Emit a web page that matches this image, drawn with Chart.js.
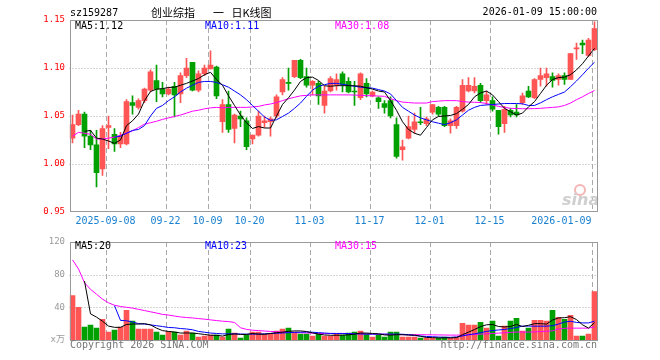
<!DOCTYPE html>
<html>
<head>
<meta charset="utf-8">
<script src="https://cdn.jsdelivr.net/npm/chart.js@4.4.1/dist/chart.umd.min.js"></script>
<style>
  html, body { margin: 0; padding: 0; background: #fff; }
  #wrap { position: relative; width: 660px; height: 360px; }
  canvas { position: absolute; left: 0; }
  #priceCanvas { top: 0; }
  #volCanvas { top: 232px; }
</style>
</head>
<body>
<div id="wrap">
  <canvas id="priceCanvas" width="660" height="232"></canvas>
  <canvas id="volCanvas" width="660" height="128"></canvas>
</div>
<script>
// Fechas de negociacion (categorias)
const fechas = [
  '2025-08-29',
  '2025-09-01','2025-09-02','2025-09-03','2025-09-04','2025-09-05',
  '2025-09-08','2025-09-09','2025-09-10','2025-09-11','2025-09-12',
  '2025-09-15','2025-09-16','2025-09-17','2025-09-18','2025-09-19',
  '2025-09-22','2025-09-23','2025-09-24','2025-09-25','2025-09-26',
  '2025-09-29','2025-09-30',
  '2025-10-09','2025-10-10',
  '2025-10-13','2025-10-14','2025-10-15','2025-10-16','2025-10-17',
  '2025-10-20','2025-10-21','2025-10-22','2025-10-23','2025-10-24',
  '2025-10-27','2025-10-28','2025-10-29','2025-10-30','2025-10-31',
  '2025-11-03','2025-11-04','2025-11-05','2025-11-06','2025-11-07',
  '2025-11-10','2025-11-11','2025-11-12','2025-11-13','2025-11-14',
  '2025-11-17','2025-11-18','2025-11-19','2025-11-20','2025-11-21',
  '2025-11-24','2025-11-25','2025-11-26','2025-11-27','2025-11-28',
  '2025-12-01','2025-12-02','2025-12-03','2025-12-04','2025-12-05',
  '2025-12-08','2025-12-09','2025-12-10','2025-12-11','2025-12-12',
  '2025-12-15','2025-12-16','2025-12-17','2025-12-18','2025-12-19',
  '2025-12-22','2025-12-23','2025-12-24','2025-12-25','2025-12-26',
  '2025-12-29','2025-12-30','2025-12-31',
  '2026-01-05','2026-01-06','2026-01-07','2026-01-08','2026-01-09'
];

// Fechas con linea vertical y su texto
const fechasMarca = ['2025-09-08','2025-09-22','2025-10-09','2025-10-20','2025-11-03','2025-11-17','2025-12-01','2025-12-15','2026-01-09'];
const textosMarca = ['2025-09-08','09-22','10-09','10-20','11-03','11-17','12-01','12-15','2026-01-09'];

// Velas: apertura, cierre, maximo, minimo
const aperturas = [
  1.027,1.041,1.052,1.029,1.020,0.995,1.038,1.031,1.021,1.021,
  1.064,1.059,1.066,1.077,1.087,1.078,1.073,1.081,1.073,1.092,
  1.106,1.077,1.094,1.099,1.101,1.044,1.062,1.037,1.050,1.045,
  1.026,1.030,1.043,1.044,1.050,1.075,1.085,1.091,1.108,1.091,
  1.082,1.084,1.061,1.076,1.082,1.094,1.086,1.076,1.069,1.084,
  1.071,1.069,1.063,1.066,1.041,1.015,1.027,1.036,1.044,1.042,
  1.054,1.059,1.059,1.040,1.040,1.055,1.076,1.076,1.082,1.066,
  1.066,1.056,1.042,1.056,1.054,1.064,1.076,1.069,1.088,1.090,
  1.091,1.088,1.092,1.088,1.120,1.126,1.113,1.119
];
const cierres = [
  1.041,1.052,1.029,1.020,0.991,1.037,1.040,1.021,1.029,1.065,
  1.061,1.066,1.078,1.096,1.078,1.073,1.078,1.072,1.092,1.100,
  1.077,1.094,1.100,1.103,1.071,1.062,1.036,1.051,1.047,1.018,
  1.030,1.050,1.045,1.047,1.070,1.088,1.084,1.108,1.090,1.082,
  1.086,1.071,1.076,1.089,1.088,1.083,1.075,1.075,1.094,1.073,
  1.075,1.065,1.059,1.050,1.008,1.018,1.039,1.044,1.043,1.047,
  1.062,1.052,1.040,1.045,1.059,1.082,1.082,1.081,1.066,1.072,
  1.057,1.039,1.057,1.051,1.051,1.071,1.070,1.088,1.092,1.094,
  1.087,1.092,1.088,1.115,1.121,1.124,1.129,1.141
];
const maximos = [
  1.051,1.056,1.054,1.035,1.035,1.040,1.050,1.037,1.033,1.067,
  1.071,1.068,1.079,1.098,1.103,1.085,1.080,1.085,1.095,1.110,
  1.106,1.097,1.103,1.118,1.102,1.067,1.076,1.052,1.055,1.048,
  1.030,1.055,1.050,1.049,1.072,1.090,1.100,1.108,1.109,1.100,
  1.087,1.086,1.081,1.091,1.094,1.096,1.090,1.086,1.095,1.089,
  1.076,1.070,1.066,1.070,1.048,1.025,1.050,1.053,1.059,1.049,
  1.062,1.060,1.060,1.047,1.060,1.088,1.090,1.090,1.084,1.076,
  1.070,1.056,1.060,1.058,1.062,1.074,1.081,1.089,1.100,1.100,
  1.095,1.094,1.095,1.115,1.126,1.129,1.131,1.148
];
const minimos = [
  1.022,1.040,1.017,1.015,0.976,0.988,1.016,1.013,1.017,1.020,
  1.052,1.057,1.064,1.075,1.065,1.070,1.072,1.049,1.064,1.090,
  1.076,1.075,1.092,1.099,1.068,1.033,1.033,1.022,1.039,1.015,
  1.021,1.029,1.038,1.029,1.048,1.072,1.077,1.090,1.089,1.080,
  1.072,1.062,1.053,1.075,1.077,1.075,1.074,1.061,1.067,1.070,
  1.070,1.058,1.053,1.048,1.006,1.004,1.026,1.032,1.041,1.040,
  1.052,1.050,1.039,1.032,1.037,1.054,1.075,1.074,1.064,1.062,
  1.055,1.031,1.033,1.049,1.049,1.062,1.069,1.068,1.081,1.081,
  1.080,1.082,1.083,1.088,1.109,1.115,1.112,1.118
];

// Medias moviles del precio
const ma5Precio = [
  null,null,1.034,1.035,1.027,1.026,1.024,1.0215,1.025,1.040,
  1.045,1.052,1.066,1.0755,1.078,1.0785,1.0797,1.080,1.082,1.084,
  1.0865,1.089,1.093,1.0955,1.088,1.082,1.071,1.061,1.051,1.043,
  1.037,1.039,1.0375,1.0375,1.050,1.062,1.069,1.077,1.086,1.090,
  1.0905,1.087,1.0815,1.081,1.0816,1.0816,1.0816,1.0815,1.081,1.0795,
  1.078,1.076,1.075,1.066,1.056,1.044,1.036,1.032,1.030,1.038,
  1.046,1.0495,1.050,1.0506,1.0525,1.057,1.062,1.070,1.074,1.076,
  1.072,1.065,1.058,1.0545,1.051,1.053,1.0595,1.065,1.0735,1.082,
  1.088,1.090,1.0905,1.093,1.098,1.1045,1.1125,1.1205
];
const ma10Precio = [
  null,null,null,null,null,null,null,1.028,1.029,1.032,
  1.035,1.036,1.040,1.050,1.058,1.061,1.066,1.070,1.075,1.079,
  1.082,1.085,1.086,1.086,1.085,1.0826,1.080,1.076,1.072,1.067,
  1.061,1.055,1.049,1.0455,1.046,1.0495,1.053,1.058,1.0635,1.0705,
  1.077,1.081,1.0826,1.084,1.084,1.083,1.082,1.081,1.080,1.0795,
  1.079,1.0775,1.076,1.073,1.066,1.059,1.055,1.051,1.048,1.046,
  1.044,1.0425,1.041,1.043,1.046,1.051,1.056,1.059,1.061,1.0615,
  1.062,1.0625,1.063,1.063,1.063,1.0627,1.061,1.061,1.0637,1.067,
  1.070,1.0725,1.075,1.0805,1.0865,1.093,1.0998,1.106
];
const ma30Precio = [
  1.029,1.033,1.032,1.031,1.026,1.026,1.027,1.028,1.030,1.032,
  1.0345,1.038,1.0415,1.043,1.0445,1.0465,1.048,1.0495,1.051,1.053,
  1.055,1.056,1.0575,1.0585,1.059,1.0585,1.059,1.059,1.059,1.059,
  1.0595,1.060,1.0615,1.0625,1.064,1.066,1.068,1.0695,1.071,1.0715,
  1.072,1.072,1.072,1.072,1.072,1.072,1.072,1.0718,1.0715,1.0712,
  1.071,1.0708,1.0705,1.068,1.066,1.0645,1.064,1.0635,1.0635,1.0635,
  1.065,1.0655,1.066,1.066,1.066,1.065,1.0645,1.0643,1.064,1.063,
  1.0615,1.060,1.059,1.058,1.0578,1.0576,1.0576,1.0577,1.058,1.0585,
  1.059,1.0595,1.061,1.0635,1.067,1.070,1.0735,1.0765
];

// Volumen (x万) y sus medias
const volumen = [
  54.4,39.9,15.7,18.1,14.5,25.4,9.7,12.1,15.7,36.2,
  23.0,13.3,13.3,13.3,9.7,6.0,10.3,9.7,6.0,10.9,
  8.5,3.6,4.8,6.0,6.0,3.6,13.3,8.5,2.4,6.0,
  9.7,9.7,7.2,7.2,10.9,13.3,14.5,9.7,7.2,7.2,
  4.8,7.2,4.8,4.8,7.2,6.0,8.5,9.7,10.9,7.2,
  3.6,6.0,3.6,9.7,9.7,3.6,3.6,3.6,2.4,2.4,
  2.4,2.4,3.6,2.4,3.6,20.5,18.1,18.1,21.7,14.5,
  23.0,4.8,16.9,23.0,26.6,10.9,14.5,24.2,24.2,23.0,
  36.2,27.8,25.4,30.2,4.8,4.8,7.2,59.2
];
const ma5Vol = [
  null,null,72,32,28,23,17,15.5,15.5,19,
  19.5,19.5,20,18.5,14.5,11.5,10.5,9.8,8.5,8.6,
  8.5,7.7,6.8,5.8,5.8,4.8,6.7,7.5,6.8,6.8,
  8,7.1,7,8,8.9,9.6,10.6,11.1,11.1,10.4,
  8.7,7.2,6.2,5.8,5.8,6,6.3,7.2,8.5,8.5,
  8,7.5,6.2,6,6.5,6.5,6,6,4.6,3.1,
  2.9,2.6,2.6,2.6,2.9,6.5,9.6,12.8,16.4,18.6,
  19,16.5,16,16.5,19,16.5,18,20,20,19.4,
  24.4,27,27.3,28.5,25,18.6,14.5,21.2
];
const ma10Vol = [
  null,null,null,null,null,null,null,42,24,23.5,
  22,20,19.5,18.5,17.5,16.5,15.3,15,14,13.5,
  12.5,10.5,9.5,8.5,8,7.5,7.5,7.5,7.3,7.2,
  7.2,7.3,7.5,8,8.3,8.6,9,9.3,9.5,9.7,
  9.5,9,8.5,8,8,8,7.8,7.6,7.4,7.3,
  7.2,7.2,7.2,7.2,7.2,7,6.5,5.5,4.8,4.3,
  4,3.6,3.3,3.3,3.7,5,6.5,7.5,9,10.5,
  11.5,12.3,12.9,14,15.3,17,17,16.9,16.9,16.9,
  17.5,19.5,22,22.9,21.5,20.9,20.9,23
];
const ma30Vol = [
  98,87,70,62,56,50,45.5,42.5,41,40,
  39,37.5,36,34.5,33,31.3,30.5,29.3,28.2,27.5,
  27,26.2,25.5,24.6,23.8,23,22.5,21.5,15,13,
  12,11.5,11,10.5,10,9.7,9.4,9,8.9,8.6,
  8.3,8,8,8,8,8,7.9,7.8,7.6,7.4,
  7.3,7.1,7,6.8,6.6,6.5,6.5,6.5,6.5,6.4,
  6.3,6.2,6.1,6,6,6,6.3,6.7,7.2,7.6,
  8,8.4,8.8,9.3,9.7,9.7,9.7,9.9,10.3,10.7,
  11.2,13.5,14.3,14.5,14.5,14.5,14.5,16
];

// Textos de las etiquetas
const codigo = 'sz159287';
const tituloPartes = ['创业综指', '一', '日K线图'];
const fechaHora = '2026-01-09 15:00:00';
const etiquetasPrecio = ['MA5:1.12', 'MA10:1.11', 'MA30:1.08'];
const etiquetasVol = ['MA5:20', 'MA10:23', 'MA30:15'];

// Colores
const ROJO = '#ff5555';
const VERDE = '#00a000';
const COLORES_MA = ['#000000', '#0000ff', '#ff00ff'];
const GRIS_MARCO = '#999999';
const GRIS_REJILLA = '#aaaaaa';
const MONO = '"DejaVu Sans Mono", "Noto Sans CJK SC", monospace';

const coloresVelas = cierres.map((c, i) => c >= aperturas[i] ? ROJO : VERDE);

function lineaMA(datos, color) {
    return {
        type: 'line', data: datos, borderColor: color, borderWidth: 1,
        pointRadius: 0, tension: 0, fill: false, order: 0
    };
}

// Lineas verticales punteadas en las fechas marcadas
function dibujarVerticales(chart) {
    const { ctx, chartArea: a, scales: { x } } = chart;
    ctx.save();
    ctx.strokeStyle = GRIS_REJILLA;
    ctx.lineWidth = 1;
    ctx.setLineDash([5, 3]);
    fechasMarca.forEach(f => {
        const px = x.getPixelForValue(fechas.indexOf(f)) - 2;
        ctx.beginPath();
        ctx.moveTo(px, Math.round(a.top));
        ctx.lineTo(px, Math.round(a.bottom));
        ctx.stroke();
    });
    ctx.restore();
}

function dibujarHorizontales(chart, valores) {
    const { ctx, chartArea: a, scales: { y } } = chart;
    ctx.save();
    ctx.strokeStyle = GRIS_REJILLA;
    ctx.lineWidth = 1;
    ctx.setLineDash([1, 2]);
    valores.forEach(v => {
        const py = Math.round(y.getPixelForValue(v)) + 0.5;
        ctx.beginPath();
        ctx.moveTo(a.left, py);
        ctx.lineTo(a.right, py);
        ctx.stroke();
    });
    ctx.restore();
}

function dibujarMarco(chart, abajo) {
    const { ctx, chartArea: a } = chart;
    const l = Math.round(a.left) + 0.5, r = Math.floor(a.right) + 0.5;
    const t = Math.round(a.top) + 0.5, b = abajo;
    ctx.save();
    ctx.strokeStyle = GRIS_MARCO;
    ctx.lineWidth = 1;
    ctx.strokeRect(l, t, r - l, b - t);
    ctx.restore();
}

function dibujarEtiquetasMA(ctx, textos, y) {
    const xs = [75, 205, 335];
    ctx.font = '10px ' + MONO;
    ctx.textBaseline = 'middle';
    ctx.textAlign = 'left';
    textos.forEach((t, i) => {
        ctx.fillStyle = COLORES_MA[i];
        ctx.fillText(t, xs[i], y);
    });
}

const pluginPrecio = {
    id: 'pluginPrecio',
    beforeDatasetsDraw(chart) {
        const { ctx } = chart;
        dibujarHorizontales(chart, [1.10, 1.05, 1.00]);
        dibujarVerticales(chart);
        // marca de agua sina
        ctx.save();
        ctx.strokeStyle = 'rgba(240,150,150,0.7)';
        ctx.lineWidth = 2;
        ctx.beginPath();
        ctx.arc(580, 190, 5, 0, Math.PI * 2);
        ctx.stroke();
        ctx.fillStyle = '#cfcfcf';
        ctx.font = 'italic bold 16px "DejaVu Sans"';
        ctx.textAlign = 'left';
        ctx.textBaseline = 'alphabetic';
        ctx.fillText('sina', 562, 205);
        ctx.restore();
    },
    afterDraw(chart) {
        const { ctx, scales: { x }, chartArea: a } = chart;
        dibujarMarco(chart, 211.5);
        ctx.save();
        // cabecera
        ctx.fillStyle = '#000';
        ctx.font = '10px ' + MONO;
        ctx.textBaseline = 'middle';
        ctx.textAlign = 'left';
        ctx.fillText(codigo, 70, 13);
        ctx.textAlign = 'right';
        ctx.fillText(fechaHora, 597, 12.5);
        ctx.font = '11px "Noto Sans CJK SC"';
        ctx.textAlign = 'left';
        const xsTitulo = [151, 213, 231.5];
        tituloPartes.forEach((t, i) => ctx.fillText(t, xsTitulo[i], 12.5));
        dibujarEtiquetasMA(ctx, etiquetasPrecio, 26.5);
        // fechas del eje x
        ctx.font = '10px ' + MONO;
        ctx.fillStyle = '#1a80d0';
        fechasMarca.forEach((f, i) => {
            const px = x.getPixelForValue(fechas.indexOf(f));
            if (i === fechasMarca.length - 1) {
                ctx.textAlign = 'right';
                ctx.fillText(textosMarca[i], px - 3, 221);
            } else {
                ctx.textAlign = 'center';
                ctx.fillText(textosMarca[i], px - 3, 221);
            }
        });
        ctx.restore();
    }
};

const pluginVol = {
    id: 'pluginVol',
    beforeDatasetsDraw(chart) {
        dibujarHorizontales(chart, [80, 40]);
        dibujarVerticales(chart);
    },
    afterDraw(chart) {
        const { ctx, chartArea: a } = chart;
        dibujarMarco(chart, Math.round(a.bottom) + 0.5);
        ctx.save();
        dibujarEtiquetasMA(ctx, etiquetasVol, 14.3);
        ctx.fillStyle = '#777';
        ctx.font = '10px ' + MONO;
        ctx.textBaseline = 'middle';
        ctx.textAlign = 'left';
        ctx.fillText('Copyright 2026 SINA.COM', 70, 113.5);
        ctx.textAlign = 'right';
        ctx.fillText('http://finance.sina.com.cn', 597, 113.5);
        ctx.restore();
    }
};

const ejeXComun = {
    offset: true,
    grid: { display: false, drawTicks: false },
    border: { display: false },
    ticks: { display: false }
};

// Grafico de velas
const graficoPrecio = new Chart(document.getElementById('priceCanvas').getContext('2d'), {
    type: 'bar',
    data: {
        labels: fechas,
        datasets: [
            lineaMA(ma5Precio, COLORES_MA[0]),
            lineaMA(ma10Precio, COLORES_MA[1]),
            lineaMA(ma30Precio, COLORES_MA[2]),
            {
                label: 'cuerpo',
                data: aperturas.map((o, i) => [o, cierres[i]]),
                backgroundColor: coloresVelas,
                barThickness: 5, minBarLength: 1, grouped: false, order: 1
            },
            {
                label: 'mecha',
                data: minimos.map((l, i) => [l, maximos[i]]),
                backgroundColor: coloresVelas,
                barThickness: 1, grouped: false, order: 2
            }
        ]
    },
    options: {
        responsive: false,
        animation: false,
        events: [],
        layout: { padding: { top: 20, right: 62.5, bottom: 0, left: 0 } },
        plugins: { legend: { display: false }, tooltip: { enabled: false } },
        scales: {
            x: Object.assign({}, ejeXComun, { afterFit: s => { s.height = 20; } }),
            y: {
                min: 0.95, max: 1.15,
                ticks: {
                    stepSize: 0.05,
                    callback: v => Number(v).toFixed(2),
                    color: '#ff0000',
                    font: { family: MONO, size: 9 },
                    padding: 4.5
                },
                grid: { display: false, drawTicks: false },
                border: { display: false },
                afterFit: s => { s.width = 69.5; }
            }
        }
    },
    plugins: [pluginPrecio]
});

// Grafico de volumen
const graficoVol = new Chart(document.getElementById('volCanvas').getContext('2d'), {
    type: 'bar',
    data: {
        labels: fechas,
        datasets: [
            lineaMA(ma5Vol, COLORES_MA[0]),
            lineaMA(ma10Vol, COLORES_MA[1]),
            lineaMA(ma30Vol, COLORES_MA[2]),
            {
                label: 'volumen',
                data: volumen,
                backgroundColor: coloresVelas,
                barThickness: 5, order: 1
            }
        ]
    },
    options: {
        responsive: false,
        animation: false,
        events: [],
        layout: { padding: { top: 8, right: 62.5, bottom: 20, left: 0 } },
        plugins: { legend: { display: false }, tooltip: { enabled: false } },
        scales: {
            x: Object.assign({}, ejeXComun, { afterFit: s => { s.height = 0; } }),
            y: {
                min: 0, max: 120,
                ticks: {
                    stepSize: 40,
                    callback: v => v === 0 ? 'x万' : String(v),
                    color: '#999999',
                    font: { family: MONO, size: 9 },
                    padding: 4.5
                },
                grid: { display: false, drawTicks: false },
                border: { display: false },
                afterFit: s => { s.width = 69.5; }
            }
        }
    },
    plugins: [pluginVol]
});
</script>
</body>
</html>
